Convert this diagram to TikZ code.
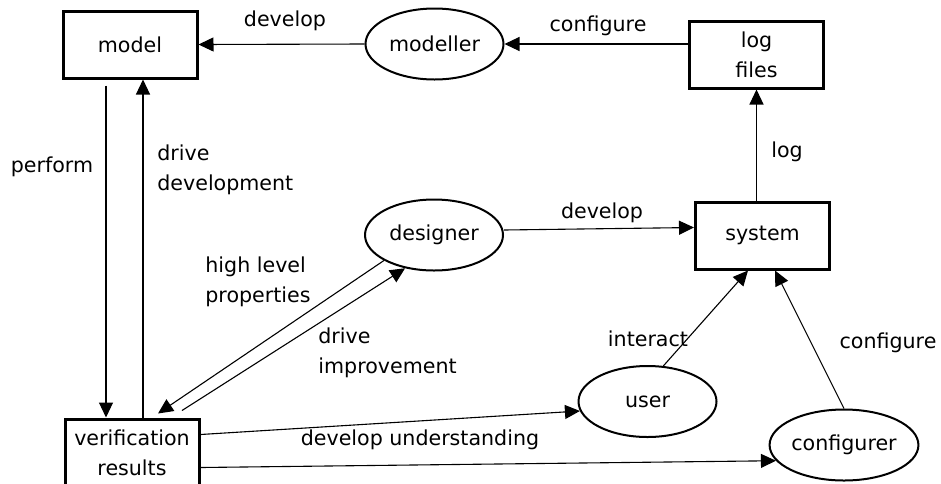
\documentclass[tikz,border=0pt]{standalone}
\usepackage{fontspec}
\setmainfont{DejaVu Sans}
\usetikzlibrary{shapes.geometric,arrows.meta}
\begin{document}
\begin{tikzpicture}[x=0.5pt,y=-0.5pt,
  every node/.style={font=\fontsize{10.3}{15}\selectfont},
  box/.style={draw,line width=1.5pt,minimum width=67pt,minimum height=33.5pt,inner sep=0pt,align=center},
  role/.style={draw,ellipse,line width=1pt,minimum width=69pt,minimum height=35.5pt,inner sep=0pt},
  arr/.style={line width=0.55pt,-{Triangle[length=7.5pt,width=7pt]}},
  lbl/.style={inner sep=0pt,align=left}]
\useasboundingbox (0,0) rectangle (941,483);
% nodes
\node[box] (model) at (130,44.5) {model};
\node[role] (modeller) at (434.5,44) {modeller};
\node[box] (logfiles) at (756.5,54.5) {log\\files};
\node[box] (system) at (762.5,235.5) {system};
\node[role] (designer) at (434,235) {designer};
\node[box] (verif) at (132,452.5) {verification\\results};
\node[role] (user) at (647.5,401.5) {user};
\node[role] (configurer) at (844,445) {configurer};
% connectors
\draw[arr] (modeller.west) -- (model.east);
\draw[arr] (logfiles.west |- modeller.east) -- (modeller.east);
\draw[arr] (system.north -| logfiles.south) -- (logfiles.south);
\draw[arr] ([xshift=-12pt,yshift=-3pt]model.south) -- ([xshift=-13pt]verif.north);
\draw[arr] ([xshift=5.5pt]verif.north) -- ([xshift=6.5pt]model.south);
\draw[arr] ([yshift=2.5pt]designer.east) -- ([yshift=4pt]system.west);
\draw[arr] (designer.207) -- ([xshift=13pt,yshift=2pt]verif.north);
\draw[arr] ([xshift=25pt,yshift=3.5pt]verif.north) -- (designer.229);
\draw[arr] ([yshift=9pt]verif.east) -- (user.188);
\draw[arr] ([yshift=-7.5pt]verif.east) -- (configurer.193);
\draw[arr] (user.66) -- ([xshift=-7.25pt]system.south);
\draw[arr] (configurer.north) -- ([xshift=6.25pt]system.south);
% labels
\node[lbl] (l1) at (285,21) {develop};
\node[lbl] (l2) at (598,26) {configure};
\node[lbl] (l3) at (52,167) {perform};
\node[lbl,anchor=west] (l4) at (157,170) {drive\\development};
\node[lbl] (l5) at (787,152) {log};
\node[lbl] (l6) at (602,213) {develop};
\node[lbl,anchor=west] (l7) at (205,282) {high level\\properties};
\node[lbl,anchor=west] (l8) at (318,353) {drive\\improvement};
\node[lbl] (l9) at (648,339) {interact};
\node[lbl] (l10) at (888,343) {configure};
\node[lbl] (l11) at (420,440) {develop understanding};
\end{tikzpicture}
\end{document}
